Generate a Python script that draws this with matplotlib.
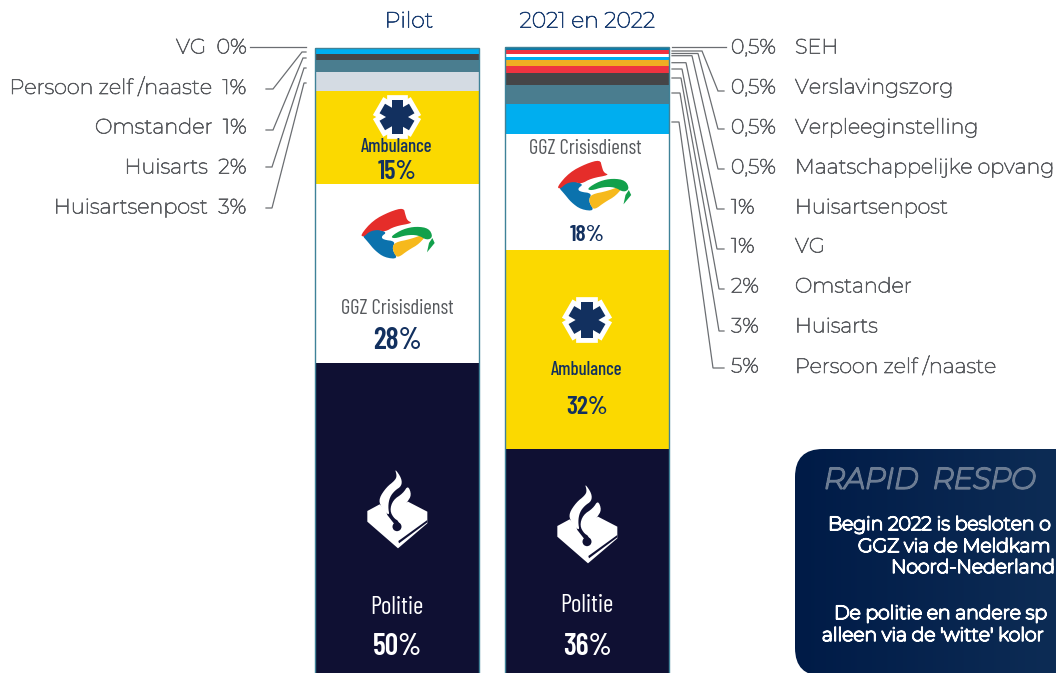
import numpy as np
import matplotlib
matplotlib.use("Agg")
import logging
logging.getLogger("matplotlib.font_manager").setLevel(logging.ERROR)
import matplotlib.pyplot as plt
import matplotlib.patheffects as pe
from matplotlib.patches import Polygon, FancyBboxPatch, Circle

# ---------- data ----------
columns = ["Pilot", "2021 en 2022"]
pilot_names = ["Politie", "GGZ Crisisdienst", "Ambulance", "Huisartsenpost", "Huisarts", "Omstander", "Persoon zelf /naaste", "VG"]
pilot_values = [50.8, 28, 14.5, 3, 1.9, 0.9, 0.9, 0]
pilot_colors = ["#0f1033", "#ffffff", "#fbd900", "#d4dbe3", "#4a7d8f", "#454547", "#00aeef", "#00aeef"]

y2_names = ["Politie", "Ambulance", "GGZ Crisisdienst", "Persoon zelf /naaste", "Huisarts", "Omstander", "VG",
            "Huisartsenpost", "Maatschappelijke opvang", "Verpleeginstelling", "Verslavingszorg", "SEH"]
y2_values = [37.3, 31.1, 18.1, 4.7, 3, 1.9, 1.1, 0.9, 0.5, 0.5, 0.6, 0.5]
y2_colors = ["#0f1033", "#fbd900", "#ffffff", "#00aeef", "#4a7d8f", "#454547", "#ef3340", "#f0ad23",
             "#00aeef", "#ffffff", "#ef3340", "#0b7ba8"]

left_labels = ["VG  0%", "Persoon zelf /naaste  1%", "Omstander  1%", "Huisarts  2%", "Huisartsenpost  3%"]
right_pct = ["0,5%", "0,5%", "0,5%", "0,5%", "1%", "1%", "2%", "3%", "5%"]
right_names = ["SEH", "Verslavingszorg", "Verpleeginstelling", "Maatschappelijke opvang", "Huisartsenpost",
               "VG", "Omstander", "Huisarts", "Persoon zelf /naaste"]

box_title = "RAPID  RESPO"
box_lines = ["Begin 2022 is besloten o", "GGZ via de Meldkam", "Noord-Nederland",
             "De politie en andere sp", "alleen via de 'witte' kolor"]

# ---------- layout ----------
W, H = 1056, 673
LABEL = ["Montserrat", "Inter", "DejaVu Sans"]
COND = ["Barlow Condensed", "Roboto Condensed", "Roboto"]
GREY = "#5a5c60"
NAVY = "#12305f"
LINE = "#6b6e72"
fig = plt.figure(figsize=(W / 100, H / 100), dpi=100, facecolor="white")


def fat(color, lw):
    return [pe.withStroke(linewidth=lw, foreground=color)]


# bars axis: x in column units, y in percent
ax = fig.add_axes([0, 0, 1, 1])
step, x0, pxpct, base = 189.5, 397.3, 6.4, 688
ax.set_xlim(-x0 / step, (W - x0) / step)
ax.set_ylim((base - H) / pxpct, base / pxpct)
ax.axis("off")
bw = 164 / step
for i, (vals, cols) in enumerate([(pilot_values, pilot_colors), (y2_values, y2_colors)]):
    b = 0
    for v, c in zip(vals, cols):
        ax.bar(i, v, bottom=b, width=bw, color=c, linewidth=0)
        b += v
    ax.bar(i, b, width=bw, facecolor="none", edgecolor="#3f8298", linewidth=1.0, zorder=3)

# overlay in pixels
ov = fig.add_axes([0, 0, 1, 1])
ov.patch.set_alpha(0)
ov.axis("off")
ov.set_xlim(0, W)
ov.set_ylim(H, 0)

# callout box with gradient
grad = np.linspace(0, 1, 256)[None, :, None]
c0, c1 = np.array([0, 27, 71]) / 255, np.array([13, 44, 85]) / 255
img = ov.imshow(c0 + (c1 - c0) * grad, extent=[795, 1056, 680, 449], aspect="auto", zorder=1)
box = FancyBboxPatch((795 + 28, 449 + 28), 400, 676 - 449 - 56, boxstyle="round,pad=28,rounding_size=28",
                     facecolor="none", edgecolor="none", transform=ov.transData)
ov.add_patch(box)
img.set_clip_path(box)
ov.set_xlim(0, W)
ov.set_ylim(H, 0)

ov.text(824, 481, box_title, fontsize=21, color="#6c7c93", family=LABEL, style="italic",
        va="center", ha="left", zorder=5, path_effects=fat("#6c7c93", 1.6))
for (t, x, y) in zip(box_lines, [828, 858, 891, 834, 822], [525, 547, 568, 614, 636]):
    ov.text(x, y, t, fontsize=13.6, color="white", family=LABEL, va="center", ha="left", zorder=5,
            path_effects=fat("white", 1.2))

# titles
for xc, t in zip([409, 587.5], columns):
    ov.text(xc, 21, t, fontsize=15.8, color="#1c3f73", family=LABEL, ha="center", va="center", zorder=5,
            path_effects=fat("#1c3f73", 0.55))

# left labels
for y, t in zip([48, 88, 128, 168, 208], left_labels):
    ov.text(247, y, t, fontsize=15, color=GREY, family=LABEL, ha="right", va="center", zorder=5,
            path_effects=fat(GREY, 0.55))
left_leaders = [[(250, 47), (306, 47)],
                [(266, 89), (273, 89), (302, 52), (306, 52)],
                [(266, 130), (273, 130), (303, 58), (306, 58)],
                [(266, 167), (272, 167), (304, 68), (306, 68)],
                [(266, 208), (272, 208), (304, 83), (306, 83)]]
right_leaders = [[(672, 46.5), (726, 46.5)],
                 [(672, 51), (702, 51), (718, 91), (724, 91)],
                 [(672, 53.5), (698, 53.5), (718, 129), (724, 129)],
                 [(672, 55.7), (692, 55.7), (718, 169), (724, 169)],
                 [(672, 62.7), (686, 62.7), (717, 209), (724, 209)],
                 [(672, 69), (682, 69), (717, 249), (724, 249)],
                 [(672, 78), (681, 78), (719, 289), (724, 289)],
                 [(672, 93), (680, 93), (719, 331), (724, 331)],
                 [(672, 122), (679, 122), (713, 368), (724, 368)]]
for pts in left_leaders + right_leaders:
    xs, ys = zip(*pts)
    ov.plot(xs, ys, color=LINE, lw=0.9, zorder=4, solid_joinstyle="miter")
for y, p, n in zip([48, 88, 128, 168, 208, 247, 287, 327, 367], right_pct, right_names):
    ov.text(731, y, p, fontsize=14.8, color=GREY, family=LABEL, ha="left", va="center", zorder=5,
            path_effects=fat(GREY, 0.55))
    ov.text(795, y, n, fontsize=14.9, color=GREY, family=LABEL, ha="left", va="center", zorder=5,
            path_effects=fat(GREY, 0.55))


# icons
def star(cx, cy, r, hw):
    for pass_ in (0, 1):
        for a in (90, 30, 150):
            t = np.deg2rad(a)
            d = np.array([np.cos(t), np.sin(t)])
            n = np.array([-d[1], d[0]])
            c = np.array([cx, cy])
            poly = [c + d * r + n * hw, c + d * r - n * hw, c - d * r - n * hw, c - d * r + n * hw]
            if pass_ == 0:
                ov.add_patch(Polygon(poly, closed=True, facecolor="white", edgecolor="white", lw=7,
                                     joinstyle="miter", zorder=5))
            else:
                ov.add_patch(Polygon(poly, closed=True, facecolor=NAVY, edgecolor="none", zorder=6))


def chaikin(pts, n=2):
    p = np.array(pts, float)
    for _ in range(n):
        q = np.roll(p, -1, axis=0)
        p = np.column_stack([0.75 * p + 0.25 * q, 0.25 * p + 0.75 * q]).reshape(-1, 2)
    return p


def shape(cx, cy, org, pts, color, z=5, smooth=False):
    if smooth:
        pts = chaikin(pts)
    pts = [(cx + (x - org[0]) / 3, cy + (y - org[1]) / 3) for x, y in pts]
    ov.add_patch(Polygon(pts, closed=True, facecolor=color, edgecolor="none", zorder=z))


def logo(cx, cy):
    o = (175, 130)
    shape(cx, cy, o, [(66, 136), (88, 120), (112, 118), (142, 128), (125, 140), (130, 150), (168, 155), (156, 178),
                      (176, 208), (135, 204), (105, 182), (85, 157)], "#0b72ad", smooth=True)
    shape(cx, cy, o, [(62, 136), (100, 92), (150, 66), (192, 54), (197, 75), (203, 93), (220, 100), (165, 110),
                      (135, 127), (115, 120), (90, 125), (72, 142)], "#e52d2a", smooth=True)
    shape(cx, cy, o, [(165, 158), (215, 148), (266, 128), (240, 162), (205, 182), (176, 204), (165, 195), (158, 175)],
          "#f6b91c", smooth=True)
    shape(cx, cy, o, [(152, 141), (190, 118), (230, 110), (268, 116), (280, 142), (262, 152), (235, 136), (200, 136),
                      (165, 147)], "#12a04b", smooth=True)
    shape(cx, cy, o, [(278, 145), (285, 160), (262, 188), (268, 160)], "#12a04b")


def police(cx, cy):
    o = (172, 150)
    dark = "#0f1033"
    shape(cx, cy, o, [(83, 153), (120, 133), (150, 160), (205, 125), (263, 155), (263, 190), (175, 265), (83, 185)], "white")
    shape(cx, cy, o, [(176, 243), (263, 180), (263, 187), (178, 250)], dark, 6)
    shape(cx, cy, o, [(145, 125), (190, 85), (165, 125), (155, 150), (180, 192), (164, 192), (143, 165), (136, 145)], dark, 6)
    shape(cx, cy, o, [(165, 25), (186, 55), (186, 78), (165, 92), (150, 112), (145, 140), (150, 170), (122, 138),
                      (118, 115), (140, 82), (165, 62), (172, 48)], "white", 7, smooth=True)
    shape(cx, cy, o, [(205, 76), (216, 105), (202, 127), (187, 150), (184, 184), (165, 178), (150, 152), (160, 120),
                      (190, 100)], "white", 7, smooth=True)
    ov.add_patch(Circle((cx, cy + 50 / 3), 4.5, facecolor=dark, edgecolor="none", zorder=8))


star(397, 117, 17, 5.5)
star(587, 320, 18, 5.7)
logo(398, 233)
logo(594.5, 185)
police(397, 510)
police(587, 525)

# bar texts
txts = [(397, 147, "Ambulance", 13.5, NAVY, "medium"), (397, 172, "15%", 19, NAVY, "semibold"),
        (397, 308, "GGZ Crisisdienst", 14.8, "#55585c", "normal"), (397, 341, "28%", 21.5, NAVY, "semibold"),
        (397, 607, "Politie", 18, "white", "normal"), (397, 647, "50%", 21.5, "white", "semibold"),
        (585, 148, "GGZ Crisisdienst", 14.8, "#55585c", "normal"), (587, 235, "18%", 17, NAVY, "semibold"),
        (587, 370, "Ambulance", 13.5, NAVY, "medium"), (587, 407, "32%", 18.5, NAVY, "semibold"),
        (587, 606, "Politie", 18, "white", "normal"), (587, 647, "36%", 21.5, "white", "semibold")]
for x, y, t, s, c, w in txts:
    ov.text(x, y, t, fontsize=s, color=c, family=COND, fontweight=w, ha="center", va="center", zorder=9)

fig.savefig("out.png", dpi=100, facecolor="white")
